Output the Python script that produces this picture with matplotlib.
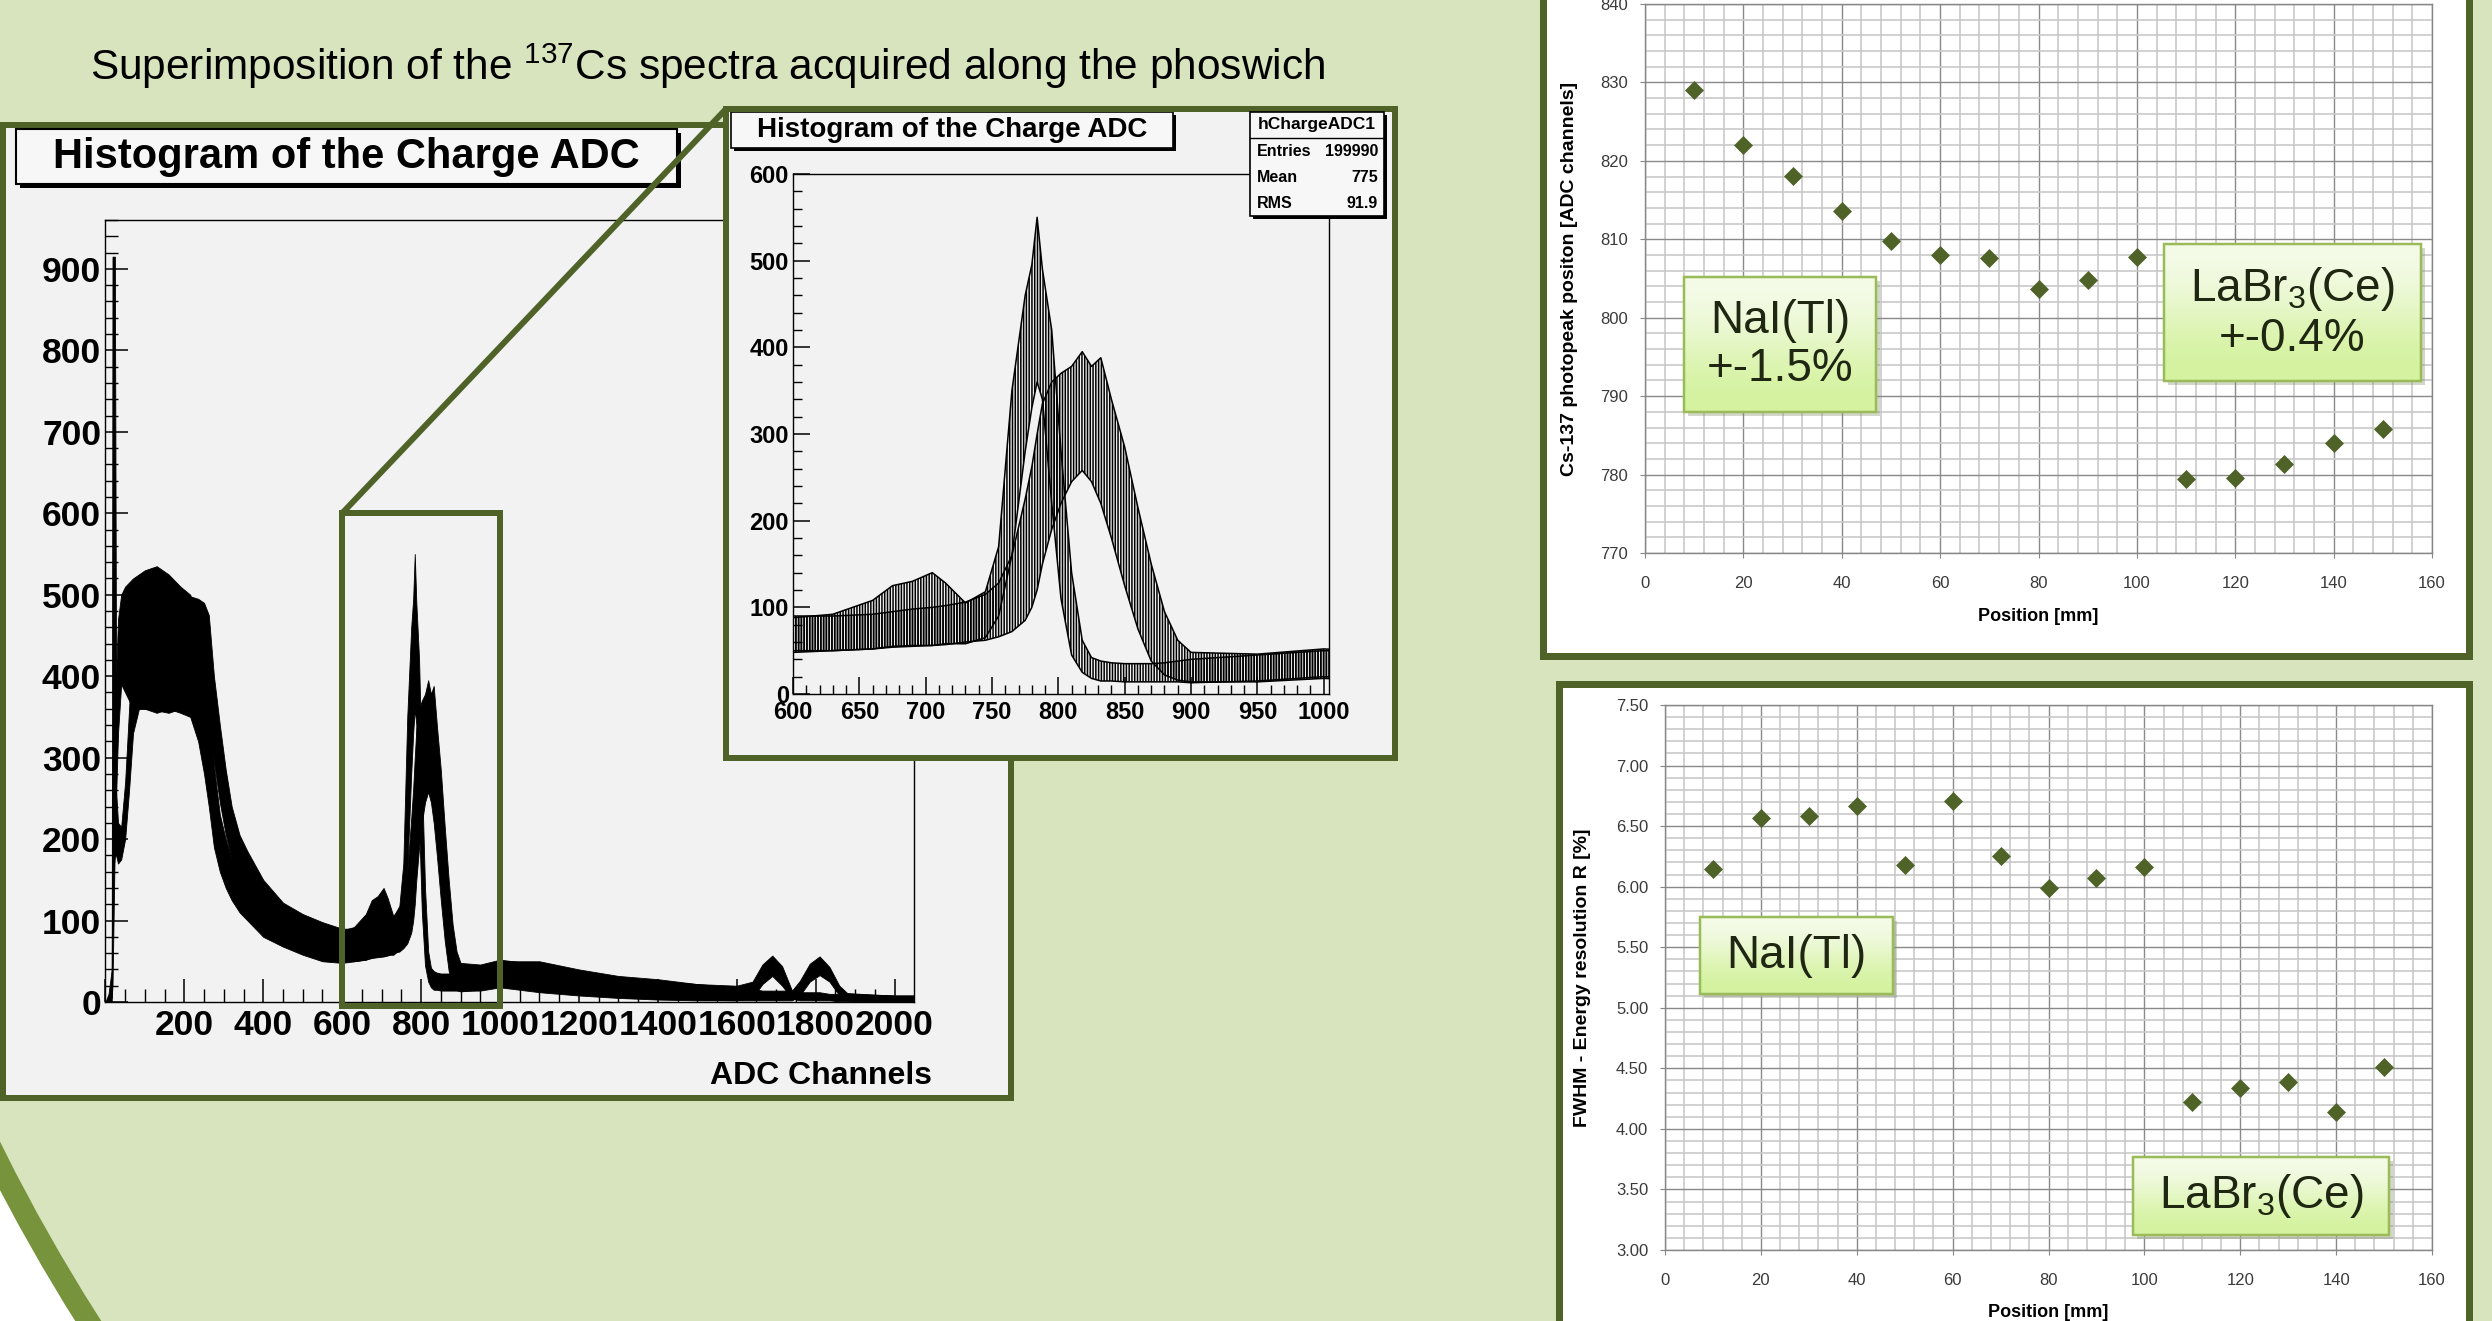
import numpy as np
import matplotlib
matplotlib.use('Agg')
import matplotlib.pyplot as plt
from matplotlib.patches import Rectangle, Circle, ConnectionPatch
from matplotlib.colors import LinearSegmentedColormap
from matplotlib.ticker import MultipleLocator, FormatStrFormatter

plt.rcParams['font.family'] = 'Liberation Sans'
plt.rcParams['hatch.linewidth'] = 1.1
plt.rcParams['hatch.color'] = 'black'

W, H = 2492, 1321
PT = 0.72  # points per pixel at dpi 100

# --- superimposed 137Cs spectra, read off the picture as band envelopes ---
# two families of spectra: LaBr3(Ce) side (peak ~780) and NaI(Tl) side (peak ~815)
adc_channel = [0, 8, 16, 18, 24, 27, 32, 40, 50, 60,
               70, 85, 100, 130, 160, 190, 215, 235, 250, 262,
               275, 290, 305, 320, 340, 360, 400, 450, 500, 550,
               600, 630, 660, 675, 690, 705, 715, 730, 745, 755,
               765, 775, 780, 784, 788, 795, 802, 810, 818, 825,
               832, 840, 850, 860, 870, 880, 890, 900, 950, 1000,
               1100, 1200, 1300, 1400, 1500, 1600, 1640, 1665, 1690, 1715,
               1740, 1760, 1785, 1810, 1835, 1860, 1880, 1950, 2000, 2048]
labr_low = [0, 0, 5, 20, 200, 250, 330, 390, 380, 370,
            360, 360, 360, 355, 360, 355, 350, 320, 280, 240,
            190, 160, 140, 125, 110, 100, 80, 68, 58, 50,
            48, 50, 52, 55, 56, 56, 58, 58, 65, 90,
            160, 280, 330, 360, 340, 220, 110, 45, 25, 18,
            15, 15, 14, 14, 14, 14, 14, 13, 15, 20,
            14, 10, 6, 4, 3, 2, 5, 22, 32, 20,
            4, 2, 2, 2, 2, 1, 1, 1, 1, 0]
labr_high = [0, 10, 40, 915, 915, 400, 470, 500, 510, 515,
             520, 525, 530, 535, 525, 510, 500, 470, 430, 380,
             290, 230, 200, 175, 158, 148, 130, 112, 102, 92,
             88, 92, 108, 125, 130, 140, 128, 105, 118, 170,
             350, 460, 495, 550, 490, 420, 280, 140, 62, 42,
             38, 36, 35, 35, 35, 36, 38, 40, 45, 50,
             50, 40, 32, 28, 22, 20, 25, 46, 57, 44,
             14, 12, 12, 12, 10, 10, 10, 9, 8, 8]
nai_low = [0, 0, 0, 150, 180, 180, 170, 175, 200, 260,
           330, 360, 360, 358, 355, 360, 360, 360, 355, 340,
           295, 245, 205, 175, 150, 130, 105, 85, 70, 58,
           50, 50, 52, 54, 55, 56, 57, 60, 62, 66,
           72, 85, 100, 120, 150, 190, 220, 245, 258, 245,
           220, 180, 125, 75, 38, 22, 16, 14, 14, 18,
           12, 8, 5, 3, 2, 2, 2, 2, 2, 2,
           2, 8, 25, 33, 25, 8, 2, 1, 1, 0]
nai_high = [0, 5, 20, 300, 290, 260, 220, 215, 270, 360,
            450, 500, 505, 510, 505, 500, 498, 495, 490, 475,
            400, 340, 285, 240, 205, 185, 150, 122, 108, 98,
            90, 90, 92, 95, 98, 100, 102, 106, 115, 128,
            160, 225, 262, 300, 335, 360, 370, 378, 395, 378,
            388, 340, 285, 215, 150, 95, 62, 48, 46, 52,
            46, 38, 30, 26, 22, 18, 16, 14, 14, 14,
            14, 26, 47, 56, 43, 20, 11, 9, 8, 8]

# --- photopeak position and energy resolution along the phoswich ---
nai_position = [10, 20, 30, 40, 50, 60, 70, 80, 90, 100]
labr_position = [110, 120, 130, 140, 150]
nai_peak = [829.0, 822.0, 818.1, 813.6, 809.8, 808.0, 807.6, 803.7, 804.8, 807.7]
labr_peak = [779.4, 779.6, 781.3, 784.0, 785.8]
nai_fwhm = [6.15, 6.57, 6.58, 6.67, 6.18, 6.71, 6.25, 5.99, 6.07, 6.16]
labr_fwhm = [4.22, 4.34, 4.39, 4.14, 4.51]

GREEN_BG = '#d7e4bd'
GREEN_DARK = '#4f6228'
GREEN_ARC = '#77933c'
ROOT_GRAY = '#f2f2f2'

fig = plt.figure(figsize=(W / 100, H / 100), dpi=100, facecolor='white')


def px_axes(x0, y0, x1, y1, **kw):
    return fig.add_axes([x0 / W, 1 - y1 / H, (x1 - x0) / W, (y1 - y0) / H], **kw)


def pixel_space(ax, x0=0, y0=0, x1=W, y1=H):
    ax.set_xlim(x0, x1)
    ax.set_ylim(y1, y0)


# background, arc and panels
bg = px_axes(0, 0, W, H, zorder=0)
bg.axis('off')
bg.add_patch(Circle((1700, 300), 1908, facecolor=GREEN_BG, edgecolor=GREEN_ARC, lw=22 * PT))
bg.add_patch(Rectangle((3, 125), 1008, 973, facecolor=ROOT_GRAY, edgecolor=GREEN_DARK, lw=6 * PT))
bg.add_patch(Rectangle((1542.5, -20), 926, 675.5, facecolor='white', edgecolor=GREEN_DARK, lw=7 * PT))
bg.add_patch(Rectangle((1558.5, 683.5), 910, 700, facecolor='white', edgecolor=GREEN_DARK, lw=7 * PT))
bg.text(90, 80, r'Superimposition of the $^{\mathregular{137}}$Cs spectra acquired along the phoswich',
        fontsize=30.5, va='baseline', ha='left', color='black')
# ROOT title box of the main histogram
bg.add_patch(Rectangle((20, 133), 661, 55, facecolor='black', edgecolor='none'))
bg.add_patch(Rectangle((16, 129), 661, 55, facecolor='#f7f7f7', edgecolor='black', lw=1.5))
bg.text(346, 157, 'Histogram of the Charge ADC', fontsize=30, fontweight='bold',
        ha='center', va='center')
bg.text(932, 1076, 'ADC Channels', fontsize=23, fontweight='bold', ha='right', va='center')
pixel_space(bg)


def root_axes(ax, xlim, ylim, xmajor, xminor, ymajor, yminor, xlabels, ylabels, size, tick_len):
    ax.set_facecolor(ROOT_GRAY)
    ax.set_xlim(*xlim)
    ax.set_ylim(*ylim)
    ax.set_xticks(xmajor, xlabels, fontweight='bold', fontsize=size)
    ax.set_yticks(ymajor, ylabels, fontweight='bold', fontsize=size)
    ax.xaxis.set_minor_locator(MultipleLocator(xminor))
    ax.yaxis.set_minor_locator(MultipleLocator(yminor))
    ax.tick_params(which='major', direction='in', length=tick_len * PT, width=1.1)
    ax.tick_params(which='minor', direction='in', length=tick_len * 0.55 * PT, width=1.0)
    ax.tick_params(axis='y', pad=3)
    ax.tick_params(axis='x', pad=5)
    for s in ax.spines.values():
        s.set_color('black')
        s.set_linewidth(1.0)


# main histogram
ax_main = px_axes(105.4, 220, 913.5, 1002, zorder=1)
ax_main.fill_between(adc_channel, labr_low, labr_high, color='black', lw=0.6)
ax_main.fill_between(adc_channel, nai_low, nai_high, color='black', lw=0.6)
xt = list(range(0, 2001, 200))
yt = list(range(0, 901, 100))
root_axes(ax_main, (0, 2048), (0, 960), xt, 50, yt, 20,
          [''] + [str(v) for v in xt[1:]], [str(v) for v in yt], 25.5, 23)
ax_main.add_patch(Rectangle((600, -5), 400, 605, fill=False, edgecolor=GREEN_DARK,
                            lw=6 * PT, clip_on=False, zorder=5))

# inset panel
ax_panel = px_axes(726, 109, 1395, 758, zorder=3)
ax_panel.set_facecolor(ROOT_GRAY)
ax_panel.set_xticks([])
ax_panel.set_yticks([])
for s in ax_panel.spines.values():
    s.set_color(GREEN_DARK)
    s.set_linewidth(6 * PT)
ax_panel.add_patch(Rectangle((734, 115), 442, 36, facecolor='black', edgecolor='none'))
ax_panel.add_patch(Rectangle((731, 112), 442, 36, facecolor='#f7f7f7', edgecolor='black', lw=1.2))
ax_panel.text(952, 130, 'Histogram of the Charge ADC', fontsize=20, fontweight='bold',
              ha='center', va='center')
pixel_space(ax_panel, 726, 109, 1395, 758)

# connector lines from the zoom box to the inset
for xy_a, xy_b in [((600, 600), (0, 1)), ((1000, -5), (1, 0))]:
    con = ConnectionPatch(xyA=xy_a, coordsA='data', axesA=ax_main,
                          xyB=xy_b, coordsB='axes fraction', axesB=ax_panel,
                          color=GREEN_DARK, lw=6 * PT, zorder=2)
    fig.add_artist(con)

# inset histogram
ax_in = px_axes(793, 174, 1329, 694, zorder=4)
for lo, hi in [(labr_low, labr_high), (nai_low, nai_high)]:
    ax_in.fill_between(adc_channel, lo, hi, facecolor='none', edgecolor='black',
                       hatch='||||||', lw=0)
    ax_in.plot(adc_channel, lo, color='black', lw=1.1)
    ax_in.plot(adc_channel, hi, color='black', lw=1.1)
xt_in = list(range(600, 1001, 50))
yt_in = list(range(0, 601, 100))
root_axes(ax_in, (600, 1004), (0, 600), xt_in, 10, yt_in, 20,
          [str(v) for v in xt_in], [str(v) for v in yt_in], 17, 17)


# Excel style scatter charts
def excel_axes(ax, ylim, ymajor, yminor, fmt, ylabel, ylab_x, xlab_y):
    ax.set_xlim(0, 160)
    ax.set_ylim(*ylim)
    ax.xaxis.set_major_locator(MultipleLocator(20))
    ax.xaxis.set_minor_locator(MultipleLocator(4))
    ax.yaxis.set_major_locator(MultipleLocator(ymajor))
    ax.yaxis.set_minor_locator(MultipleLocator(yminor))
    ax.yaxis.set_major_formatter(FormatStrFormatter(fmt))
    ax.set_axisbelow(True)
    ax.grid(which='minor', color='#c8c8c8', lw=1.6 * PT)
    ax.grid(which='major', color='#8a8a8a', lw=1.4 * PT)
    ax.tick_params(which='major', length=5 * PT, color='#868686', labelsize=12,
                   labelcolor='#3a3a3a')
    ax.tick_params(axis='x', pad=13)
    ax.tick_params(axis='y', pad=8.5)
    ax.tick_params(which='minor', length=0)
    for s in ax.spines.values():
        s.set_color('#868686')
        s.set_linewidth(1.4 * PT)
    ax.set_xlabel('Position [mm]', fontsize=13, fontweight='bold')
    ax.set_ylabel(ylabel, fontsize=14, fontweight='bold')
    ax.xaxis.set_label_coords(0.5, xlab_y)
    ax.yaxis.set_label_coords(ylab_x, 0.5)


ax_pk = px_axes(1645, 4, 2432, 553, zorder=1)
for xs, ys in [(nai_position, nai_peak), (labr_position, labr_peak)]:
    ax_pk.plot(xs, ys, ls='none', marker='D', ms=9, color=GREEN_DARK, mec=GREEN_DARK, mew=0.5)
excel_axes(ax_pk, (770, 840), 10, 2, '%d', 'Cs-137 photopeak positon [ADC channels]',
           -67 / 787, -55 / 549)

ax_res = px_axes(1665, 705, 2432, 1250, zorder=1)
for xs, ys in [(nai_position, nai_fwhm), (labr_position, labr_fwhm)]:
    ax_res.plot(xs, ys, ls='none', marker='D', ms=9, color=GREEN_DARK, mec=GREEN_DARK, mew=0.5)
excel_axes(ax_res, (3.0, 7.5), 0.5, 0.1, '%.2f', 'FWHM - Energy resolution R [%]',
           -74 / 767, -54 / 545)

# top layer: ROOT stats box and callout boxes
ax_top = px_axes(0, 0, W, H, zorder=10)
ax_top.axis('off')
ax_top.add_patch(Rectangle((1253, 115), 134, 104, facecolor='black', edgecolor='none'))
ax_top.add_patch(Rectangle((1250, 112), 134, 104, facecolor='#f7f7f7', edgecolor='black', lw=1.2))
ax_top.plot([1250, 1384], [137.5, 137.5], color='black', lw=1.0)
ax_top.text(1317, 124.5, 'hChargeADC1', fontsize=12.5, fontweight='bold', ha='center', va='center')
for yy, name, val in [(152, 'Entries', '199990'), (178, 'Mean', '775'), (203, 'RMS', '91.9')]:
    ax_top.text(1257, yy, name, fontsize=11.5, fontweight='bold', ha='left', va='center')
    ax_top.text(1378, yy, val, fontsize=11.5, fontweight='bold', ha='right', va='center')

box_cmap = LinearSegmentedColormap.from_list('box', ['#f5fbea', '#d3f29c'])


def note_box(x0, y0, x1, y1, text, cy):
    ax_top.add_patch(Rectangle((x0 + 4, y0 + 4), x1 - x0, y1 - y0, facecolor='#7f8f6a',
                               alpha=0.35, edgecolor='none', zorder=1))
    ax_top.imshow([[0.0], [1.0]], cmap=box_cmap, extent=(x0, x1, y1, y0), aspect='auto',
                  interpolation='bicubic', zorder=2)
    ax_top.add_patch(Rectangle((x0, y0), x1 - x0, y1 - y0, fill=False, edgecolor='#9bbb59',
                               lw=2.5 * PT, zorder=3))
    ax_top.text((x0 + x1) / 2, cy, text, ha='center', va='center', fontsize=33,
                color='#1f2612', linespacing=1.12, zorder=4)


note_box(1684, 277, 1876, 412, 'NaI(Tl)\n+-1.5%', 345)
note_box(2164, 244, 2421, 381, 'LaBr$_\\mathregular{3}$(Ce)\n+-0.4%', 313)
note_box(1700, 917, 1893, 994, 'NaI(Tl)', 956)
note_box(2133, 1157, 2389, 1235, 'LaBr$_\\mathregular{3}$(Ce)', 1196)
pixel_space(ax_top)

fig.savefig('out.png', dpi=100, facecolor='white')
